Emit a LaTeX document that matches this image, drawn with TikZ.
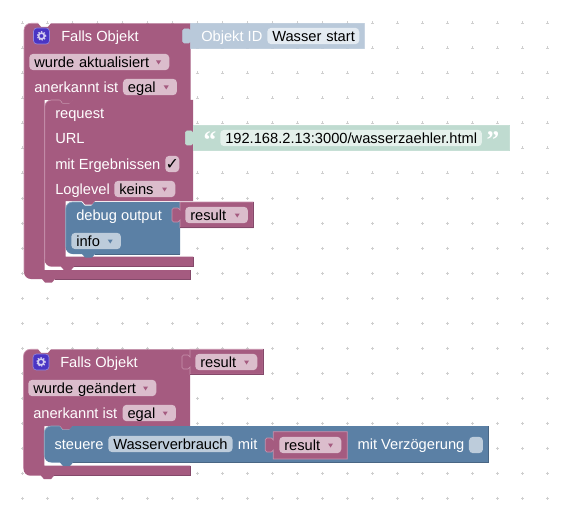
\documentclass[tikz,border=0pt]{standalone}
\usepackage{fontspec}
\setmainfont{Liberation Sans}
\newfontfamily\symfont{DejaVu Sans}
\newfontfamily\quotefont{Liberation Serif}
\usetikzlibrary{calc}
\definecolor{Plum}{HTML}{A55B80}
\definecolor{PlumDark}{HTML}{84496A}
\definecolor{PlumLight}{HTML}{C891AD}
\definecolor{PlumField}{HTML}{DBBDCC}
\definecolor{Steel}{HTML}{5B80A5}
\definecolor{SteelDark}{HTML}{496684}
\definecolor{SteelLight}{HTML}{8CA6C0}
\definecolor{SteelField}{HTML}{BDCCDB}
\definecolor{Pale}{HTML}{B9C9DA}
\definecolor{PaleField}{HTML}{E4EBF2}
\definecolor{Mint}{HTML}{BFDBD0}
\definecolor{MintField}{HTML}{E5F1EC}
\definecolor{Indigo}{HTML}{4A35C4}
\definecolor{GridDot}{HTML}{CFCFCF}
% block outlines
\newcommand\nchtop{-- ++(3,3.5) -- ++(7,0) -- ++(3,-3.5)}
\newcommand\nchbot{-- ++(-3,3.5) -- ++(-7,0) -- ++(-3,-3.5)}
\newcommand\corntl{.. controls +(0,-4) and +(-4,0) .. ++(7,-7)}
\newcommand\cornbl{.. controls +(-4,0) and +(0,4) .. ++(-7,-7)}
\newcommand\tabval{-- ++(-2,2) -- ++(-4.5,0) -- ++(-1.5,-1.5) -- ++(0,-11) -- ++(1.5,-1.5) -- ++(4.5,0) -- ++(2,2)}

\begin{document}
\begin{tikzpicture}[x=.75pt,y=-.75pt,
    griddot/.style={GridDot,line width=.5pt},
    plumblock/.style={fill=Plum},
    steelblock/.style={fill=Steel},
    plumlit/.style={draw=PlumLight,line width=.5pt},
    plumdim/.style={draw=PlumDark,line width=.6pt},
    steellit/.style={draw=SteelLight,line width=.5pt},
    steeldim/.style={draw=SteelDark,line width=.6pt},
    outblock/.style={fill=Plum,draw=PlumLight,line width=.5pt},
    lbl/.style={anchor=west,inner sep=0pt,inner ysep=.75pt,text height=9.6pt,text depth=1.2pt,text=white,font=\fontsize{11}{13}\selectfont},
    fieldw/.code={\pgfmathsetlengthmacro\fw{(#1-10)*.75pt}\tikzset{text width=\fw}},
    plumfield/.style={lbl,fill=PlumField,text=black,rounded corners=3pt,inner xsep=3.75pt,fieldw=#1},
    steelfield/.style={lbl,fill=SteelField,text=black,rounded corners=3pt,inner xsep=3.75pt,fieldw=#1},
    palefield/.style={lbl,fill=PaleField,text=black,rounded corners=3pt,inner xsep=3.75pt,fieldw=#1},
    mintfield/.style={lbl,fill=MintField,text=black,rounded corners=3pt,inner xsep=3.75pt,fieldw=#1},
    iconbox/.style={fill=Indigo,draw=Indigo!60,line width=.5pt,rounded corners=2.5pt,minimum size=12pt,inner sep=0pt},
    gear/.style={draw=Indigo!25,line width=1.2pt},
    gearteeth/.style={draw=Indigo!25,line width=1pt,dash pattern=on 1pt off 1.05pt},
    quotemark/.style={inner sep=0pt,text=white,font=\quotefont\bfseries\fontsize{19}{19}\selectfont}]
  \useasboundingbox (0,0) rectangle (566,513);
  \fill[white] (0,0) rectangle (566,513);
  % workspace grid
  \foreach \i in {0,...,21}\foreach \j in {0,...,19}
    \draw[griddot] ({22.5+25*\i-1.5},{23+25*\j})--++(3,0) ({22.5+25*\i},{23+25*\j-1.5})--++(0,3);

  % first trigger
  \fill[plumblock] (24,30.3) \corntl -- (38,23.3) \nchtop -- (190.7,23.3) -- (190.7,100) -- (73,100) \nchbot -- (44.7,100) -- (44.7,270) -- (190.7,270) -- (190.7,279) -- (55,279) \nchbot -- (31,279) \cornbl -- cycle;
  \draw[plumlit] (24,272) -- (24,30.3) \corntl -- (38,23.3);
  \draw[plumdim] (190.7,270) -- (190.7,279) -- (55,279);
  \draw[fill=Pale,draw=Pale] (190.7,23.3) -- (364.3,23.3) -- (364.3,48.7) -- (190.7,48.7) -- (190.7,41) \tabval -- cycle;
  \node[iconbox] (icona) at (41.5,36) {};
  \draw[gear] (icona.center) circle (2.2pt);
  \draw[gearteeth] (icona.center) circle (3.1pt);
  \node[lbl] (trigger) at (61,36) {Falls Objekt};
  \node[lbl] (idlabel) at (201,36) {Objekt ID};
  \node[palefield=92] (idvalue) at (267,36) {\mbox{Wasser start}};
  \node[plumfield=140] (event) at (29,62) {wurde aktualisiert};
  \node[lbl] (acklabel) at (34,87) {anerkannt ist};
  \node[plumfield=54] (ack) at (122.7,87) {egal};

  % request block
  \fill[plumblock] (44.7,107) \corntl -- (59.5,100) \nchtop -- (193,100) -- (193,201) -- (95,201) \nchbot -- (65.7,201) -- (65.7,256.5) -- (193,256.5) -- (193,266.7) -- (74,266.7) \nchbot -- (51.7,266.7) \cornbl -- cycle;
  \draw[plumlit] (44.7,259.7) -- (44.7,107) \corntl -- (59.5,100);
  \draw[plumdim] (193,256.5) -- (193,266.7) -- (74,266.7);
  \draw[fill=Mint,draw=Mint] (193.3,125.3) -- (509.7,125.3) -- (509.7,150.7) -- (193.3,150.7) -- (193.3,143) \tabval -- cycle;
  \node[lbl] (request) at (55,113) {request};
  \node[lbl] (url) at (55,138) {URL};
  \node[quotemark] (openq) at (210,140) {“};
  \node[mintfield=261.7] (urlvalue) at (220,138) {192.168.2.13:3000/wasserzaehler.html};
  \node[quotemark] (closeq) at (493,140) {”};
  \node[lbl] (results) at (55,164) {mit Ergebnissen};
  \node[plumfield=14] (check) at (165,164) {};
  \node[inner sep=0pt,font=\symfont\fontsize{12}{12}\selectfont] (tick) at (check.center) {✓};
  \node[lbl] (loglabel) at (55,189) {Loglevel};
  \node[plumfield=61] (level) at (114,189) {keins};

  % debug output
  \fill[steelblock] (65.7,209) \corntl -- (81.5,202) \nchtop -- (180,202) -- (180,254) -- (95,254) \nchbot -- (72.7,254) \cornbl -- cycle;
  \draw[steellit] (65.7,247) -- (65.7,209) \corntl -- (81.5,202);
  \draw[steeldim] (180,254) -- (95,254);
  \draw[outblock] (180,202) -- (253.3,202) -- (253.3,227.7) -- (180,227.7) -- (180,220) \tabval -- cycle;
  \draw[plumdim] (180,227.7) -- (253.3,227.7) -- (253.3,202);
  \node[lbl] (debug) at (76,215) {debug output};
  \node[plumfield=62.7] (resulta) at (185,215) {result};
  \node[steelfield=49.7] (info) at (71,241) {info};

  % second trigger
  \fill[plumblock] (23.5,356.3) \corntl -- (38,349.3) \nchtop -- (190,349.3) -- (190,426) -- (73,426) \nchbot -- (44.3,426) -- (44.3,465.7) -- (190,465.7) -- (190,475.7) -- (54,475.7) \nchbot -- (30.5,475.7) \cornbl -- cycle;
  \draw[plumlit] (23.5,468.7) -- (23.5,356.3) \corntl -- (38,349.3);
  \draw[plumdim] (190,465.7) -- (190,475.7) -- (54,475.7);
  \draw[outblock] (190,349.3) -- (263.3,349.3) -- (263.3,374.3) -- (190,374.3) -- (190,367) \tabval -- cycle;
  \draw[plumdim] (190,374.3) -- (263.3,374.3) -- (263.3,349.3);
  \node[iconbox] (iconb) at (41,362) {};
  \draw[gear] (iconb.center) circle (2.2pt);
  \draw[gearteeth] (iconb.center) circle (3.1pt);
  \node[lbl] (triggerb) at (60,362) {Falls Objekt};
  \node[plumfield=62] (resultb) at (195,362) {result};
  \node[plumfield=128] (eventb) at (28,388) {wurde geändert};
  \node[lbl] (acklabelb) at (33,413) {anerkannt ist};
  \node[plumfield=53.4] (ackb) at (122.3,413) {egal};

  % control block
  \fill[steelblock] (44.3,433) \corntl -- (59.5,426) \nchtop -- (488.7,426) -- (488.7,462.5) -- (73,462.5) \nchbot -- (51.3,462.5) \cornbl -- cycle;
  \draw[steellit] (44.3,455.5) -- (44.3,433) \corntl -- (59.5,426);
  \draw[steeldim] (488.7,426) -- (488.7,462.5) -- (73,462.5);
  \draw[outblock] (273.3,431.7) -- (347.3,431.7) -- (347.3,459) -- (273.3,459) -- (273.3,450) \tabval -- cycle;
  \node[lbl] (control) at (54.3,444) {steuere};
  \node[steelfield=124.3] (target) at (108,444) {Wasserverbrauch};
  \node[lbl] (withlabel) at (237.7,444) {mit};
  \node[plumfield=62] (resultc) at (279,445) {result};
  \node[lbl] (delaylabel) at (357.3,444) {mit Verzögerung};
  \node[steelfield=14] (delay) at (468.7,445) {};

  % dropdown arrows
  \foreach \f in {event,ack,level,resulta,resultb,eventb,ackb,resultc}
    \fill[Plum] ($(\f.east)+(-13.5,-1.5)$) --++(5,0) --++(-2.5,4) -- cycle;
  \foreach \f in {info}
    \fill[Steel] ($(\f.east)+(-13.5,-1.5)$) --++(5,0) --++(-2.5,4) -- cycle;
\end{tikzpicture}
\end{document}
